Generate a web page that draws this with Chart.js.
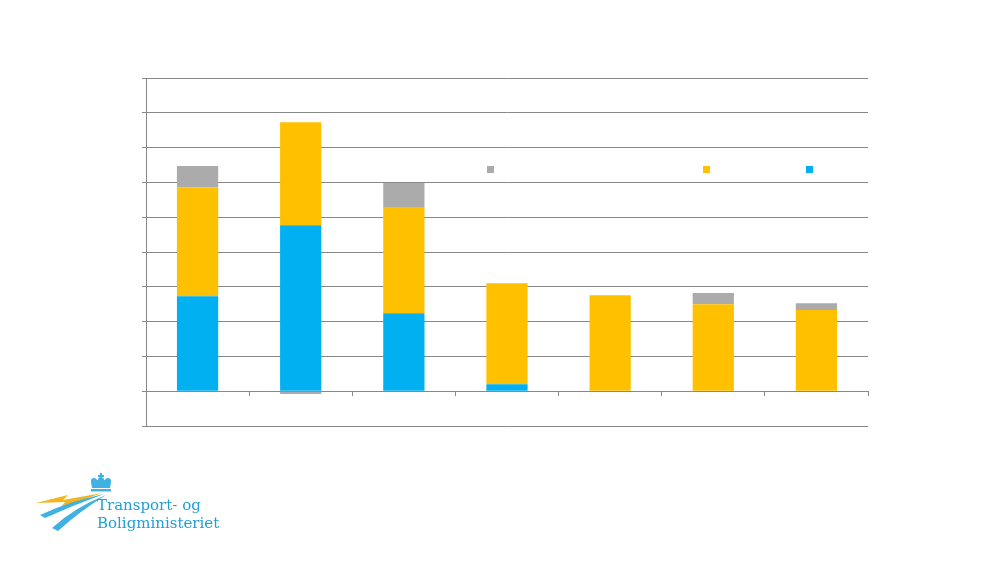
<!DOCTYPE html>
<html>
<head>
<meta charset="utf-8">
<script src="https://cdn.jsdelivr.net/npm/chart.js@4"></script>
<style>
  html, body { margin: 0; padding: 0; background: #fff; }
  #wrap { position: relative; width: 1000px; height: 563px; }
  #chart { position: absolute; left: 0; top: 0; }
  #logo { position: absolute; left: 30px; top: 470px; }
  #logo .t { font-family: 'DejaVu Serif', 'Liberation Serif', serif; fill: #1f9fd8; font-size: 15px; }
</style>
</head>
<body>
<div id="wrap">
  <canvas id="chart" width="1000" height="563"></canvas>
  <svg id="logo" width="200" height="65" viewBox="0 0 200 65">
    <!-- crown -->
    <g fill="#3fb2e3">
      <rect x="70" y="3" width="2" height="6"/>
      <rect x="68" y="5" width="6" height="2"/>
      <circle cx="64" cy="11" r="3"/>
      <circle cx="71" cy="10" r="3"/>
      <circle cx="78" cy="11" r="3"/>
      <path d="M61 12 Q71 7 81 12 L80 18 L62 18 Z"/>
      <rect x="61" y="19" width="20" height="2.5"/>
    </g>
    <!-- swooshes -->
    <path d="M6 33 L38 25 L33 30 L72 23 L31 37 L35 32 Z" fill="#f4b41a"/>
    <path d="M10 45 Q40 31 74 24 Q44 35 15 48 Z" fill="#3fb2e3"/>
    <path d="M22 58 Q45 37 76 25 Q50 41 28 61 Z" fill="#3fb2e3"/>
    <text class="t" x="67" y="40">Transport- og</text>
    <text class="t" x="67" y="58">Boligministeriet</text>
  </svg>
</div>
<script>
// Data
const categories = ['1', '2', '3', '4', '5', '6', '7'];
const blueValues = [2.73, 4.77, 2.24, 0.2, 0, 0, 0];
const yellowValues = [3.13, 2.96, 3.05, 2.9, 2.76, 2.5, 2.33];
const grayValues = [0.61, -0.08, 0.69, 0, 0, 0.32, 0.2];
const seriesNames = ['', '', ''];

const gridColor = '#888888';

// legend squares drawn inside the plot (labels are blank in the original)
const legendSquares = {
    id: 'legendSquares',
    afterDraw(chart) {
        const ctx = chart.ctx;
        const spots = [
            { x: 487, color: '#ABABAB' },
            { x: 703, color: '#FFC000' },
            { x: 806, color: '#00B0F0' }
        ];
        ctx.save();
        spots.forEach(s => {
            ctx.fillStyle = s.color;
            ctx.fillRect(s.x, 166, 7, 7);
        });
        ctx.restore();
    }
};

const ctx = document.getElementById('chart').getContext('2d');
const chart = new Chart(ctx, {
    type: 'bar',
    data: {
        labels: categories,
        datasets: [
            { label: seriesNames[0], data: blueValues, backgroundColor: '#00B0F0' },
            { label: seriesNames[1], data: yellowValues, backgroundColor: '#FFC000' },
            { label: seriesNames[2], data: grayValues, backgroundColor: '#ABABAB' }
        ]
    },
    options: {
        responsive: false,
        animation: false,
        layout: { padding: { left: 142, top: 78, right: 132, bottom: 137 } },
        plugins: {
            legend: { display: false },
            tooltip: { enabled: false }
        },
        datasets: {
            bar: { barPercentage: 0.4, categoryPercentage: 1 }
        },
        scales: {
            x: {
                stacked: true,
                position: { y: 0 },
                grid: { offset: true, drawOnChartArea: false, color: gridColor, tickLength: 4 },
                border: { color: gridColor },
                ticks: { display: false }
            },
            y: {
                stacked: true,
                min: -1,
                max: 9,
                grid: { color: gridColor, tickLength: 4 },
                border: { color: gridColor },
                ticks: { display: false, stepSize: 1 }
            }
        }
    },
    plugins: [legendSquares]
});
</script>
</body>
</html>
